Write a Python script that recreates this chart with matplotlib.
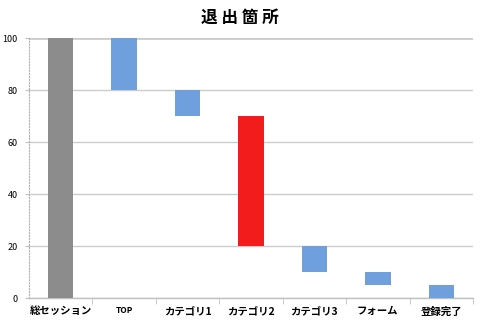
import matplotlib.pyplot as plt
import numpy as np

plt.rcParams['font.family'] = ['Noto Sans CJK JP', 'DejaVu Sans']

# data
categories = ['総セッション', 'TOP', 'カテゴリ1', 'カテゴリ2', 'カテゴリ3', 'フォーム', '登録完了']
bottoms = [0, 80, 70, 20, 10, 5, 0]
tops = [100, 100, 80, 70, 20, 10, 5]
colors = ['#8c8c8c', '#6f9fdc', '#6f9fdc', '#f21c1c', '#6f9fdc', '#6f9fdc', '#6f9fdc']
yticks = [0, 20, 40, 60, 80, 100]

fig = plt.figure(figsize=(4.8, 3.25), dpi=100)
ax = fig.add_axes([0.0604, 0.083, 0.925, 0.8])

x = np.arange(len(categories))
heights = np.array(tops) - np.array(bottoms)
ax.bar(x, heights, bottom=bottoms, width=0.4, color=colors, zorder=3)

ax.set_xlim(-0.5, len(categories) - 0.5)
ax.set_ylim(0, 100)
ax.set_yticks(yticks)
ax.set_yticklabels([str(v) for v in yticks], fontsize=6.5)
ax.tick_params(axis='y', length=3, color='#c0c0c0', pad=5)

ax.set_xticks(x)
ax.set_xticklabels(categories, fontsize=7.5, fontweight='bold')
for lbl in ax.get_xticklabels():
    if lbl.get_text() == 'TOP':
        lbl.set_fontsize(6)
ax.tick_params(axis='x', which='major', length=0, pad=6)
ax.set_xticks(np.arange(len(categories)) + 0.5, minor=True)
ax.tick_params(axis='x', which='minor', length=4, color='#c0c0c0')

ax.yaxis.grid(True, color='#cccccc', linewidth=1, zorder=0)
ax.set_axisbelow(True)
ax.get_ygridlines()[-1].set_linewidth(2)

for s in ['top', 'right']:
    ax.spines[s].set_visible(False)
ax.spines['left'].set_color('#b0b0b0')
ax.spines['left'].set_linestyle(':')
ax.spines['left'].set_linewidth(0.8)
ax.spines['bottom'].set_color('#c0c0c0')
ax.spines['bottom'].set_linewidth(1)

fig.text(0.5, 0.945, '退 出 箇 所', ha='center', va='center', fontsize=12, fontweight='bold')

fig.savefig('out.png', dpi=100)
